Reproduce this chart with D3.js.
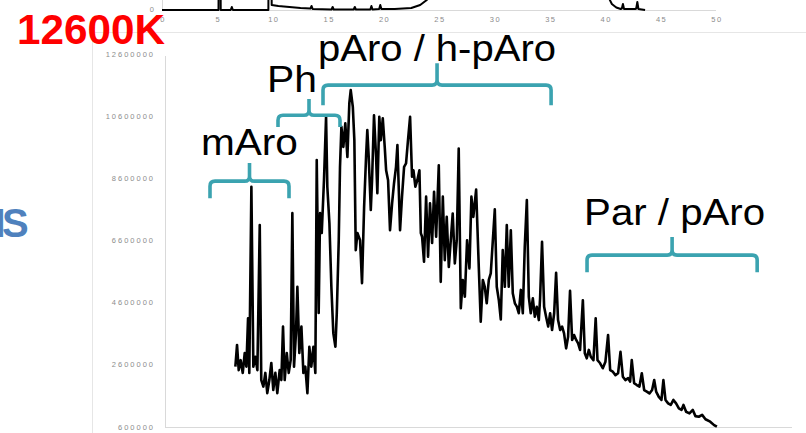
<!DOCTYPE html>
<html>
<head>
    <title></title>
    <meta charset="utf-8">
    <style>
        body { margin: 0; background: #fff; }
        svg { display: block; }
    </style>
</head>
<body>
<script src="https://cdn.jsdelivr.net/npm/d3@7"></script>
<script>
    // main trace: retention time (min) and signal (millions of counts)
    var traceTime = [
        5.05,5.17,5.29,5.43,5.58,5.72,5.84,5.96,6.05,6.20,6.34,6.48,6.63,6.80,6.91,7.06,7.20,7.34,7.49,7.63,
        7.77,7.92,8.06,8.23,8.35,8.47,8.59,8.74,8.88,9.02,9.14,9.26,9.40,9.50,9.64,9.79,9.93,10.07,10.22,10.36,
        10.50,10.65,10.79,
        10.89,11.03,11.13,11.25,11.41,11.56,11.65,11.80,11.94,12.08,
        12.23,12.33,12.47,12.56,12.66,12.80,12.94,13.09,13.23,13.33,
        13.48,13.59,13.69,13.81,14.00,14.14,14.29,14.43,14.52,14.62,
        14.77,14.86,15.00,15.15,15.24,15.38,15.49,15.63,15.77,15.87,
        16.01,16.15,16.30,16.44,16.58,16.68,16.87,17.01,17.16,17.30,
        17.44,17.59,17.73,17.83,17.97,18.11,18.26,18.36,18.45,18.59,
        18.74,18.88,19.02,19.17,19.31,19.46,19.65,19.79,19.94,20.08,
        20.22,20.37,20.51,20.65,20.80,20.94,21.08,21.23,21.37,21.52,
        21.68,21.85,21.99,22.13,22.33,22.52,22.66,22.81,22.95,23.09,
        23.24,23.38,23.53,23.67,23.81,23.96,24.10,24.24,24.39,24.53,
        24.67,24.82,24.96,25.11,25.25,25.39,25.54,25.68,25.82,25.97,
        26.11,26.25,26.40,26.54,26.68,26.83,26.92,27.06,27.21,27.35,
        27.50,27.64,27.78,27.93,28.07,28.21,28.36,28.50,28.64,28.79,
        28.93,29.07,29.22,29.36,29.51,29.65,29.79,29.99,30.13,30.27,
        30.42,30.56,30.75,30.91,31.04,31.23,31.42,31.61,31.80,31.95,
        32.14,32.33,32.52,32.69,32.86,33.04,33.24,33.38,33.50,33.67,
        33.86,34.05,34.22,34.39,34.58,34.77,34.96,35.11,35.25,35.44,
        35.63,35.77,35.92,36.11,36.30,36.49,36.68,36.88,37.07,37.21,
        37.40,37.64,37.88,38.07,38.31,38.55,38.79,39.13,39.41,39.61
    ];
    var traceSignal = [
        2.54,3.24,2.43,2.75,2.34,2.98,2.54,4.10,2.34,8.33,2.54,2.86,2.43,7.10,2.11,1.90,2.34,1.69,2.11,2.66,
        1.79,2.34,1.69,2.43,2.11,3.83,2.11,2.98,2.34,2.75,7.48,2.54,3.62,5.11,2.98,3.83,2.34,2.54,1.69,3.18,
        2.54,3.18,2.34,
        9.19,4.27,7.48,6.84,8.54,10.58,8.33,7.16,5.11,3.62,
        3.18,4.27,6.61,8.97,10.26,9.61,10.37,9.29,11.02,11.44,
        10.90,9.83,6.29,6.84,6.61,5.23,7.68,9.29,10.15,9.29,
        7.58,8.54,10.63,9.29,8.12,10.58,9.83,10.53,9.61,8.86,
        8.54,6.93,7.80,8.45,8.97,9.67,6.93,8.01,8.97,9.08,
        9.83,10.58,8.65,8.86,8.33,8.54,8.86,6.84,6.72,5.92,
        8.01,6.08,7.80,6.52,8.17,6.72,9.02,5.27,8.01,5.97,
        7.36,5.75,6.61,7.47,5.86,6.61,9.56,4.42,5.33,4.79,
        6.61,5.70,8.01,7.36,8.24,5.75,3.99,5.33,5.11,4.58,
        5.33,5.54,6.61,7.60,5.11,4.68,4.06,6.29,5.11,7.10,
        5.11,6.93,4.90,4.58,4.47,4.26,5.01,4.26,6.40,7.90,
        4.79,4.26,4.74,4.15,4.47,4.04,4.74,6.56,4.47,4.15,
        3.83,4.26,3.72,4.26,5.56,4.04,3.72,3.83,3.61,3.13,
        3.50,4.98,3.40,3.56,3.40,3.29,3.08,4.68,2.97,2.81,
        3.08,2.86,2.75,4.10,2.75,2.65,2.49,2.70,3.56,2.43,
        2.38,2.27,2.33,3.02,2.22,2.11,2.17,2.06,2.75,2.01,
        1.95,1.90,2.33,1.79,1.74,1.68,1.79,2.11,1.74,1.57,
        1.47,2.11,1.47,1.36,1.31,1.47,1.36,1.20,1.15,1.31,
        1.09,1.04,1.15,0.95,0.93,0.99,0.85,0.77,0.66,0.61
    ];

    // trace of the chart above (only its foot is visible)
    var topTime = [0,5.1,5.2,5.3,6.2,6.3,6.4,9.6,9.75,9.9,10.5,11.5,12.5,13.4,13.5,13.6,15.3,15.4,15.5,17.3,
        17.4,17.5,18.8,18.9,19.0,19.6,19.7,19.8,21.0,22.5,23.3,23.9,24.3,24.6,25.0,30,35,39.8,40.2,40.6,
        41.0,41.4,41.5,41.6,41.7,42.7,42.8,42.9,43.0,43.6];
    var topSignal = [0,0,30,0,0,0.3,0,0,30,0.5,0.4,0.3,0.2,0.15,0.4,0.1,0.05,0.3,0.05,0.05,
        0.3,0.05,0.05,0.4,0.05,0.1,0.5,0.1,0.1,0.2,0.5,1.0,1.6,3,30,30,30,30,1.5,0.6,
        0.25,0.1,0.15,0.6,0.1,0.1,0.15,0.8,0.1,0];

    var yTicks = [0.6, 2.6, 4.6, 6.6, 8.6, 10.6, 12.6];
    var yTickLabels = ['600000','2600000','4600000','6600000','8600000','10600000','12600000'];
    var xTicks = [0, 5, 10, 15, 20, 25, 30, 35, 40, 45];
    var topXTicks = [0, 5, 10, 15, 20, 25, 30, 35, 40, 45, 50];

    // bracket annotations: start/end time, bracket level, foot and tip levels (millions)
    var groupLabels = ['mAro', 'Ph', 'pAro / h-pAro', 'Par / pAro'];
    var groupStart = [3.23, 8.11, 11.34, 30.29];
    var groupEnd = [8.90, 12.56, 27.71, 42.50];
    var groupLevel = [8.51, 10.63, 11.60, 6.13];
    var groupFoot = [7.96, 10.25, 10.95, 5.58];
    var groupTip = [9.09, 11.15, 12.30, 6.71];
    var labelTime = [2.58, 7.32, 10.98, 30.08];
    var labelLevel = [9.35, 11.37, 12.37, 7.10];

    var W = 806, H = 433;
    var teal = '#3ba3b0';
    var axisGrey = '#d9d9d9';
    var tickGrey = '#8c8c8c';

    var svg = d3.select('body').append('svg')
        .attr('width', W)
        .attr('height', H)
        .style('font-family', 'Liberation Sans, Arial, sans-serif');

    svg.append('rect').attr('width', W).attr('height', H).attr('fill', '#fff');

    // frame of the lower chart picture
    svg.append('line').attr('x1', 92).attr('x2', W).attr('y1', 32.5).attr('y2', 32.5)
        .attr('stroke', '#e6e6e6').attr('stroke-width', 1);
    svg.append('line').attr('x1', 92.5).attr('x2', 92.5).attr('y1', 32).attr('y2', H)
        .attr('stroke', '#e6e6e6').attr('stroke-width', 1);

    // ---------- top (cropped) chart ----------
    var tx = d3.scaleLinear().domain([0, 50]).range([162, 716]);
    var ty = d3.scaleLinear().domain([0, 20]).range([10, -190]);

    svg.append('line').attr('x1', tx(0)).attr('x2', tx(50)).attr('y1', 10.5).attr('y2', 10.5)
        .attr('stroke', axisGrey);
    svg.append('line').attr('x1', 162.5).attr('x2', 162.5).attr('y1', 0).attr('y2', 10)
        .attr('stroke', axisGrey);

    svg.append('text')
        .attr('x', 154).attr('y', 9).attr('dy', '0.35em')
        .attr('text-anchor', 'end')
        .attr('font-size', 7.5).attr('fill', tickGrey)
        .text('0');

    svg.selectAll('.toptick').data(topXTicks).enter().append('text')
        .attr('class', 'toptick')
        .attr('x', function (d) { return tx(d) + 1; })
        .attr('y', 21.5)
        .attr('text-anchor', 'middle')
        .attr('font-size', 7.5)
        .attr('letter-spacing', 1.5)
        .attr('fill', tickGrey)
        .text(function (d) { return d; });

    var topLine = d3.line()
        .x(function (d) { return tx(d[0]); })
        .y(function (d) { return ty(d[1]); });

    svg.append('path')
        .datum(d3.zip(topTime, topSignal))
        .attr('d', topLine)
        .attr('fill', 'none')
        .attr('stroke', '#000')
        .attr('stroke-width', 2)
        .attr('stroke-linejoin', 'round');

    // ---------- main chart ----------
    var x = d3.scaleLinear().domain([0, 45]).range([165, 792]);
    var y = d3.scaleLinear().domain([0.6, 12.6]).range([427, 54]);

    svg.append('line').attr('x1', 165.5).attr('x2', 165.5).attr('y1', y(12.6) + 2).attr('y2', y(0.6))
        .attr('stroke', axisGrey);
    svg.append('line').attr('x1', x(0)).attr('x2', x(45)).attr('y1', y(0.6) + 0.5).attr('y2', y(0.6) + 0.5)
        .attr('stroke', axisGrey);

    svg.selectAll('.ytick').data(yTicks).enter().append('text')
        .attr('class', 'ytick')
        .attr('x', 155)
        .attr('y', function (d) { return y(d); })
        .attr('dy', '0.35em')
        .attr('text-anchor', 'end')
        .attr('font-size', 7.5)
        .attr('letter-spacing', 2)
        .attr('fill', tickGrey)
        .text(function (d, i) { return yTickLabels[i]; });

    svg.selectAll('.xtick').data(xTicks).enter().append('text')
        .attr('class', 'xtick')
        .attr('x', function (d) { return x(d); })
        .attr('y', 438.5)
        .attr('text-anchor', 'middle')
        .attr('font-size', 7.5)
        .attr('letter-spacing', 2)
        .attr('fill', tickGrey)
        .text(function (d) { return d; });

    var line = d3.line()
        .x(function (d) { return x(d[0]); })
        .y(function (d) { return y(d[1]); });

    svg.append('path')
        .datum(d3.zip(traceTime, traceSignal))
        .attr('d', line)
        .attr('fill', 'none')
        .attr('stroke', '#000')
        .attr('stroke-width', 2.6)
        .attr('stroke-linejoin', 'round');

    // ---------- brackets + labels ----------
    function brace(i) {
        var x0 = x(groupStart[i]), x1 = x(groupEnd[i]), xc = (x0 + x1) / 2;
        var yl = y(groupLevel[i]), yf = y(groupFoot[i]), yt = y(groupTip[i]);
        var r = 5;
        return 'M' + x0 + ',' + yf +
            'L' + x0 + ',' + (yl + r) +
            'Q' + x0 + ',' + yl + ' ' + (x0 + r) + ',' + yl +
            'L' + (xc - r) + ',' + yl +
            'Q' + xc + ',' + yl + ' ' + xc + ',' + (yl - r) +
            'L' + xc + ',' + yt +
            'M' + xc + ',' + (yl - r) +
            'Q' + xc + ',' + yl + ' ' + (xc + r) + ',' + yl +
            'L' + (x1 - r) + ',' + yl +
            'Q' + x1 + ',' + yl + ' ' + x1 + ',' + (yl + r) +
            'L' + x1 + ',' + yf;
    }

    svg.selectAll('.brace').data(groupLabels).enter().append('path')
        .attr('class', 'brace')
        .attr('d', function (d, i) { return brace(i); })
        .attr('fill', 'none')
        .attr('stroke', teal)
        .attr('stroke-width', 3.6)
        .attr('stroke-linecap', 'butt')
        .attr('stroke-linejoin', 'round');

    var labelWidth = [97, 50, 238, 181];

    svg.selectAll('.glabel').data(groupLabels).enter().append('text')
        .attr('class', 'glabel')
        .attr('x', function (d, i) { return x(labelTime[i]); })
        .attr('y', function (d, i) { return y(labelLevel[i]); })
        .attr('font-size', 36)
        .attr('fill', '#000')
        .attr('textLength', function (d, i) { return labelWidth[i]; })
        .attr('lengthAdjust', 'spacingAndGlyphs')
        .text(function (d) { return d; });

    // slide texts
    svg.append('text')
        .attr('x', 17).attr('y', 44)
        .attr('font-size', 42)
        .attr('font-weight', 'bold')
        .attr('fill', '#ff0000')
        .attr('textLength', 148)
        .attr('lengthAdjust', 'spacingAndGlyphs')
        .text('12600K');

    // word cut by the left edge of the slide
    svg.append('text')
        .attr('x', -5.5).attr('y', 237)
        .attr('font-size', 40)
        .attr('font-weight', 'bold')
        .attr('letter-spacing', -3.5)
        .attr('fill', '#4f81bd')
        .text('IS');
</script>
</body>
</html>
